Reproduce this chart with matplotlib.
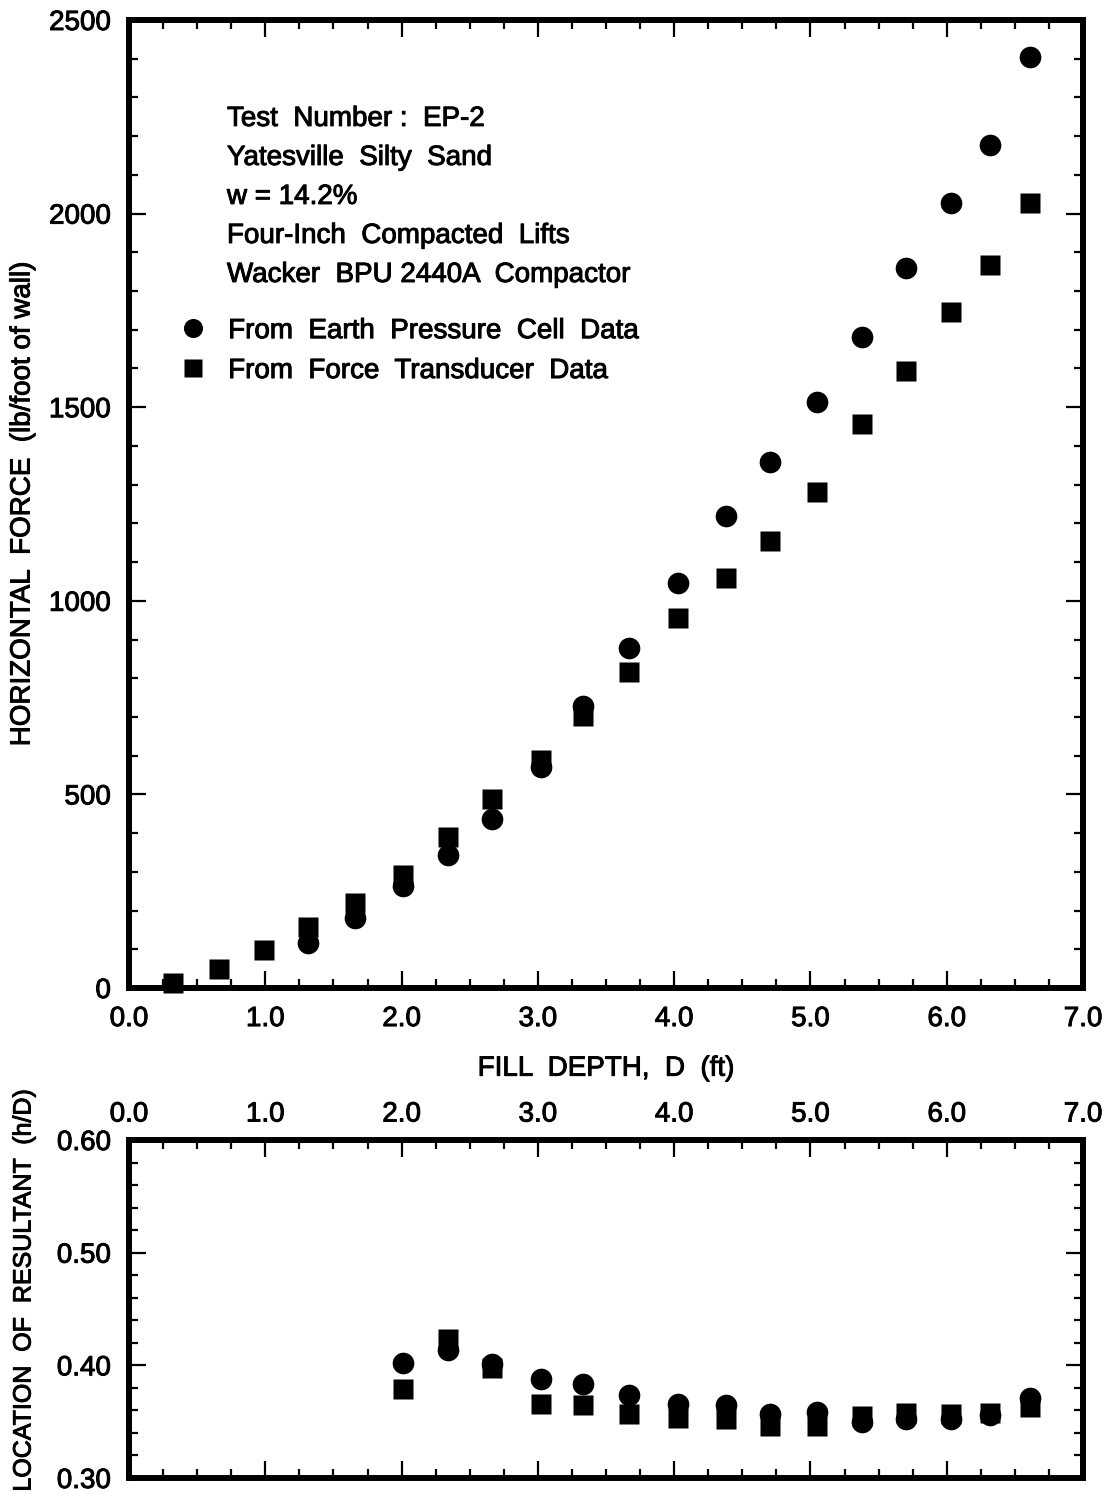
import matplotlib
matplotlib.use("Agg")
import matplotlib.pyplot as plt
import matplotlib.patheffects as pe
from matplotlib.text import Text
from matplotlib.ticker import MultipleLocator, FormatStrFormatter

plt.rcParams['font.family'] = ['Liberation Sans', 'DejaVu Sans']

# Fill depth (ft) for each lift
depth_all = [0.32, 0.66, 0.99, 1.31, 1.66, 2.01, 2.34, 2.66, 3.02, 3.33,
             3.67, 4.03, 4.38, 4.70, 5.05, 5.38, 5.70, 6.03, 6.32, 6.61]
depth_cell = depth_all[3:]
depth_res = depth_all[5:]

# Horizontal force (lb/foot of wall)
force_cell = [116, 181, 263, 343, 436, 571, 728, 878, 1046, 1219,
              1359, 1513, 1682, 1860, 2027, 2177, 2404]
force_transducer = [14, 49, 98, 158, 220, 292, 390, 489, 589, 702,
                    816, 956, 1059, 1155, 1281, 1457, 1594, 1746, 1867, 2027]

# Location of resultant (h/D)
loc_cell = [0.402, 0.414, 0.401, 0.388, 0.383, 0.374, 0.366, 0.365, 0.357,
            0.359, 0.350, 0.352, 0.352, 0.356, 0.371]
loc_transducer = [0.379, 0.423, 0.398, 0.366, 0.365, 0.357, 0.353, 0.352,
                  0.346, 0.346, 0.355, 0.358, 0.357, 0.358, 0.363]

info_lines = ["Test  Number :  EP-2",
              "Yatesville  Silty  Sand",
              "w = 14.2%",
              "Four-Inch  Compacted  Lifts",
              "Wacker  BPU 2440A  Compactor"]
legend_labels = ["From  Earth  Pressure  Cell  Data",
                 "From  Force  Transducer  Data"]

FS = 20
SPINE = 4.3
W, H = 1111, 1493
fig = plt.figure(figsize=(W / 100, H / 100), dpi=100)

def frac_box(left, top, right, bottom):
    return [left / W, 1 - bottom / H, (right - left) / W, (bottom - top) / H]

ax1 = fig.add_axes(frac_box(129, 20, 1083, 988))
ax2 = fig.add_axes(frac_box(129, 1140, 1083, 1478))

def style(ax):
    for s in ax.spines.values():
        s.set_linewidth(SPINE)
    ax.tick_params(which='both', direction='in', top=True, right=True,
                   labelsize=FS, color='black')
    ax.tick_params(which='major', length=12, width=1.6, pad=13)
    ax.tick_params(which='minor', length=6.5, width=1.6)
    ax.xaxis.set_major_locator(MultipleLocator(1.0))
    ax.xaxis.set_minor_locator(MultipleLocator(0.25))
    ax.xaxis.set_major_formatter(FormatStrFormatter('%.1f'))
    ax.set_xlim(0, 7)

style(ax1)
style(ax2)

MS_C, MS_S = 15.6, 15.0

# Upper panel: horizontal force vs fill depth
h_cell, = ax1.plot(depth_cell, force_cell, 'o', color='black', ms=MS_C,
                   mec='none', clip_on=False)
h_tr, = ax1.plot(depth_all, force_transducer, 's', color='black', ms=MS_S,
                 mec='none', clip_on=False)
ax1.set_ylim(0, 2500)
ax1.yaxis.set_major_locator(MultipleLocator(500))
ax1.yaxis.set_minor_locator(MultipleLocator(100))
ax1.set_ylabel("HORIZONTAL  FORCE  (lb/foot of wall)", fontsize=FS)
ax1.yaxis.set_label_coords(-0.098, 0.5)
ax1.set_xlabel("FILL  DEPTH,  D  (ft)", fontsize=FS, labelpad=17)

for i, line in enumerate(info_lines):
    ax1.text(0.1027, 0.8978 - i * 0.0403, line, transform=ax1.transAxes,
             fontsize=FS, va='center', ha='left')

ax1.legend([h_cell, h_tr], legend_labels, loc='upper left',
           bbox_to_anchor=(0.053, 0.692), frameon=False, fontsize=FS,
           handlelength=1.0, handletextpad=0.75, borderpad=0,
           borderaxespad=0, labelspacing=0.5, numpoints=1,
           markerscale=0.88)

# Lower panel: location of resultant vs fill depth
ax2.plot(depth_res, loc_cell, 'o', color='black', ms=MS_C, mec='none')
ax2.plot(depth_res, loc_transducer, 's', color='black', ms=MS_S, mec='none')
ax2.set_ylim(0.30, 0.60)
ax2.yaxis.set_major_locator(MultipleLocator(0.1))
ax2.yaxis.set_minor_locator(MultipleLocator(0.02))
ax2.yaxis.set_major_formatter(FormatStrFormatter('%.2f'))
ax2.tick_params(which='both', labelbottom=False, labeltop=True)
ax2.tick_params(axis='x', which='major', pad=9)
ax2.set_ylabel("LOCATION  OF  RESULTANT  (h/D)", fontsize=18)
ax2.yaxis.set_label_coords(-0.098, 0.555)

# Slightly heavier type, as in older printed figures
for t in fig.findobj(Text):
    t.set_path_effects([pe.withStroke(linewidth=0.7, foreground='black')])

fig.savefig("out.png", dpi=100)
